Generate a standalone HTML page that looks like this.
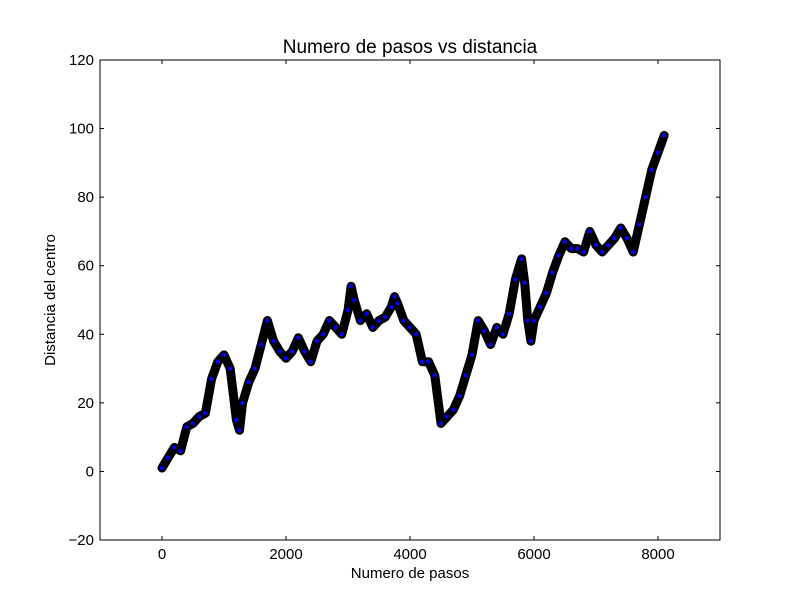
<!DOCTYPE html>
<html><head><meta charset="utf-8"><style>
body{margin:0;background:#fff;}
svg text{font-family:"Liberation Sans","DejaVu Sans",sans-serif;}
</style></head><body>
<svg id="chart" width="800" height="600" viewBox="0 0 800 600">
<rect width="800" height="600" fill="#fff"/>
<g id="plot"></g>
<g id="axes"></g>
<text x="410" y="53" font-size="19" text-anchor="middle">Numero de pasos vs distancia</text>
<text x="410" y="578" font-size="15" text-anchor="middle">Numero de pasos</text>
<text x="55" y="300" font-size="15" text-anchor="middle" transform="rotate(-90 55 300)">Distancia del centro</text>
</svg>
<script>
const steps=[0,100,200,300,400,500,600,700,800,900,1000,1100,1200,1250,1300,1400,1500,1600,1700,1800,1900,2000,2100,2200,2300,2400,2500,2600,2700,2800,2900,3000,3050,3100,3200,3300,3400,3500,3600,3700,3750,3800,3900,4000,4100,4200,4300,4400,4500,4600,4700,4800,4900,5000,5100,5200,5300,5400,5500,5600,5700,5800,5850,5900,5950,6000,6100,6200,6300,6400,6500,6600,6700,6800,6900,7000,7100,7200,7300,7400,7500,7600,7700,7800,7900,8000,8100];
const distances=[1,4,7,6,13,14,16,17,27,32,34,30,15,12,20,26,30,37,44,38,35,33,35,39,35,32,38,40,44,42,40,47,54,50,44,46,42,44,45,48,51,49,44,42,40,32,32,28,14,16,18,22,28,34,44,41,37,42,40,46,56,62,55,44,38,44,48,52,58,63,67,65,65,64,70,66,64,66,68,71,68,64,72,80,88,93,98];
const xTicks=[0,2000,4000,6000,8000];
const yTicks=[-20,0,20,40,60,80,100,120];
const L=100,R=720,T=60,B=540,xmin=-1000,xmax=9000,ymin=-20,ymax=120;
const sx=v=>L+(v-xmin)/(xmax-xmin)*(R-L);
const sy=v=>B-(v-ymin)/(ymax-ymin)*(B-T);
const NS="http://www.w3.org/2000/svg";
const plot=document.getElementById('plot'),axes=document.getElementById('axes');
function mk(tag,attrs,parent){const e=document.createElementNS(NS,tag);for(const k in attrs)e.setAttribute(k,attrs[k]);parent.appendChild(e);return e;}
const band=mk('polyline',{points:steps.map((s,i)=>sx(s)+','+sy(distances[i])).join(' '),fill:'none',stroke:'#000','stroke-width':9,'stroke-linejoin':'round','stroke-linecap':'round'},plot);


steps.forEach((s,i)=>{
  const c=mk('circle',{cx:sx(s),cy:sy(distances[i]),r:2.5,fill:'#0000ff',stroke:'#000','stroke-width':0.8},plot);
  
  
});
const frame=mk('rect',{x:L,y:T,width:R-L,height:B-T,fill:'none',stroke:'#000','stroke-width':1},axes);


xTicks.forEach(v=>{
  const x=sx(v);
  mk('line',{x1:x,x2:x,y1:B,y2:B-4,stroke:'#000'},axes);
  mk('line',{x1:x,x2:x,y1:T,y2:T+4,stroke:'#000'},axes);
  const t=mk('text',{x:x,y:B+19,'font-size':15,'text-anchor':'middle'},axes);
  t.textContent=v;
  
  
});
yTicks.forEach(v=>{
  const y=sy(v);
  mk('line',{x1:L,x2:L+4,y1:y,y2:y,stroke:'#000'},axes);
  mk('line',{x1:R,x2:R-4,y1:y,y2:y,stroke:'#000'},axes);
  const t=mk('text',{x:L-6,y:y+5,'font-size':15,'text-anchor':'end'},axes);
  t.textContent=v<0?'\u2212'+(-v):v;
  
  
});
</script>
</body></html>
